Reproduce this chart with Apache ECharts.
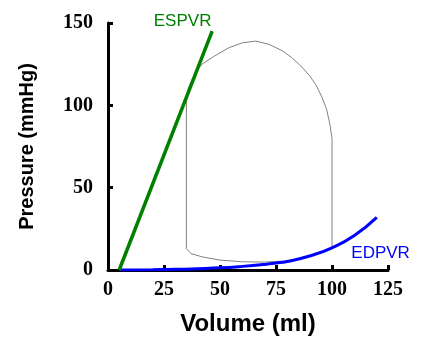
<!DOCTYPE html>
<html><head><meta charset="utf-8">
<script src="https://cdn.jsdelivr.net/npm/echarts@6/dist/echarts.min.js"></script>
<style>html,body{margin:0;padding:0;background:#fff}#c{width:424px;height:357px}</style>
</head><body><div id="c"></div>
<script>
// Data (Volume ml, Pressure mmHg)
const xTicks = [0, 25, 50, 75, 100, 125];
const yTicks = [0, 50, 100, 150];
const espvrV = [5, 46.5];
const espvrP = [0, 145];
const edpvrV = [5, 20, 30, 40, 50, 60, 70, 75, 80, 90, 100, 110, 120];
const edpvrP = [0, 0.2, 0.4, 0.8, 1.3, 2.2, 3.4, 4.2, 5.2, 8.5, 13.5, 21, 32];
const loopV = [100, 100, 99, 97.5, 95.5, 93, 90, 86, 82, 78, 72, 66, 60, 54, 47, 42, 39, 37, 35.5, 35, 35, 37, 42, 50, 60, 70, 80, 90, 100];
const loopP = [13.5, 80, 89, 98, 105, 112, 118, 124, 129, 133, 137, 139, 138, 135, 129.5, 125, 120, 114, 109, 104, 13, 10, 8, 6, 5, 4.8, 5.5, 8.5, 13.5];
const labels = [
  {text: 'ESPVR', v: 33.3, p: 151, color: '#008000'},
  {text: 'EDPVR', v: 121.7, p: 10.4, color: '#0000ff'}
];

const zip = (a, b) => a.map((x, i) => [x, b[i]]);
const chart = echarts.init(document.getElementById('c'), null, {renderer: 'canvas'});
const axisCommon = {
  axisLine: {show: true, lineStyle: {color: '#000', width: 3}},
  axisTick: {show: true, inside: true, length: 5, lineStyle: {color: '#000', width: 3}},
  splitLine: {show: false},
  axisLabel: {color: '#000', fontFamily: 'Liberation Serif', fontWeight: 'bold', fontSize: 20},
  nameLocation: 'middle',
  nameTextStyle: {color: '#000', fontFamily: 'Liberation Sans', fontWeight: 'bold'}
};
chart.setOption({
  animation: false,
  grid: {left: 108, right: 36, top: 23, bottom: 87, containLabel: false},
  xAxis: Object.assign({}, axisCommon, {
    type: 'value', min: xTicks[0], max: xTicks[xTicks.length - 1], interval: 25,
    name: 'Volume (ml)', nameGap: 42,
    nameTextStyle: Object.assign({}, axisCommon.nameTextStyle, {fontSize: 24}),
    axisLabel: Object.assign({}, axisCommon.axisLabel, {margin: 10})
  }),
  yAxis: Object.assign({}, axisCommon, {
    type: 'value', min: yTicks[0], max: yTicks[yTicks.length - 1], interval: 50,
    name: 'Pressure (mmHg)', nameGap: 71, nameRotate: 90,
    nameTextStyle: Object.assign({}, axisCommon.nameTextStyle, {fontSize: 20}),
    axisLabel: Object.assign({}, axisCommon.axisLabel, {margin: 15})
  }),
  series: [
    {type: 'line', name: 'loop', data: zip(loopV, loopP), showSymbol: false, smooth: false,
     lineStyle: {color: '#808080', width: 1}, z: 1},
    {type: 'line', name: 'EDPVR', data: zip(edpvrV, edpvrP), showSymbol: false, smooth: true,
     lineStyle: {color: '#0000ff', width: 3}, z: 2},
    {type: 'line', name: 'ESPVR', data: zip(espvrV, espvrP), showSymbol: false,
     lineStyle: {color: '#008000', width: 3.5}, z: 3}
  ]
});
chart.setOption({
  graphic: labels.map(l => {
    const pt = chart.convertToPixel({gridIndex: 0}, [l.v, l.p]);
    return {type: 'text', x: pt[0], y: pt[1],
      style: {text: l.text, fill: l.color, font: '17px "Liberation Sans"', align: 'center', verticalAlign: 'middle'}};
  })
});
</script></body></html>
